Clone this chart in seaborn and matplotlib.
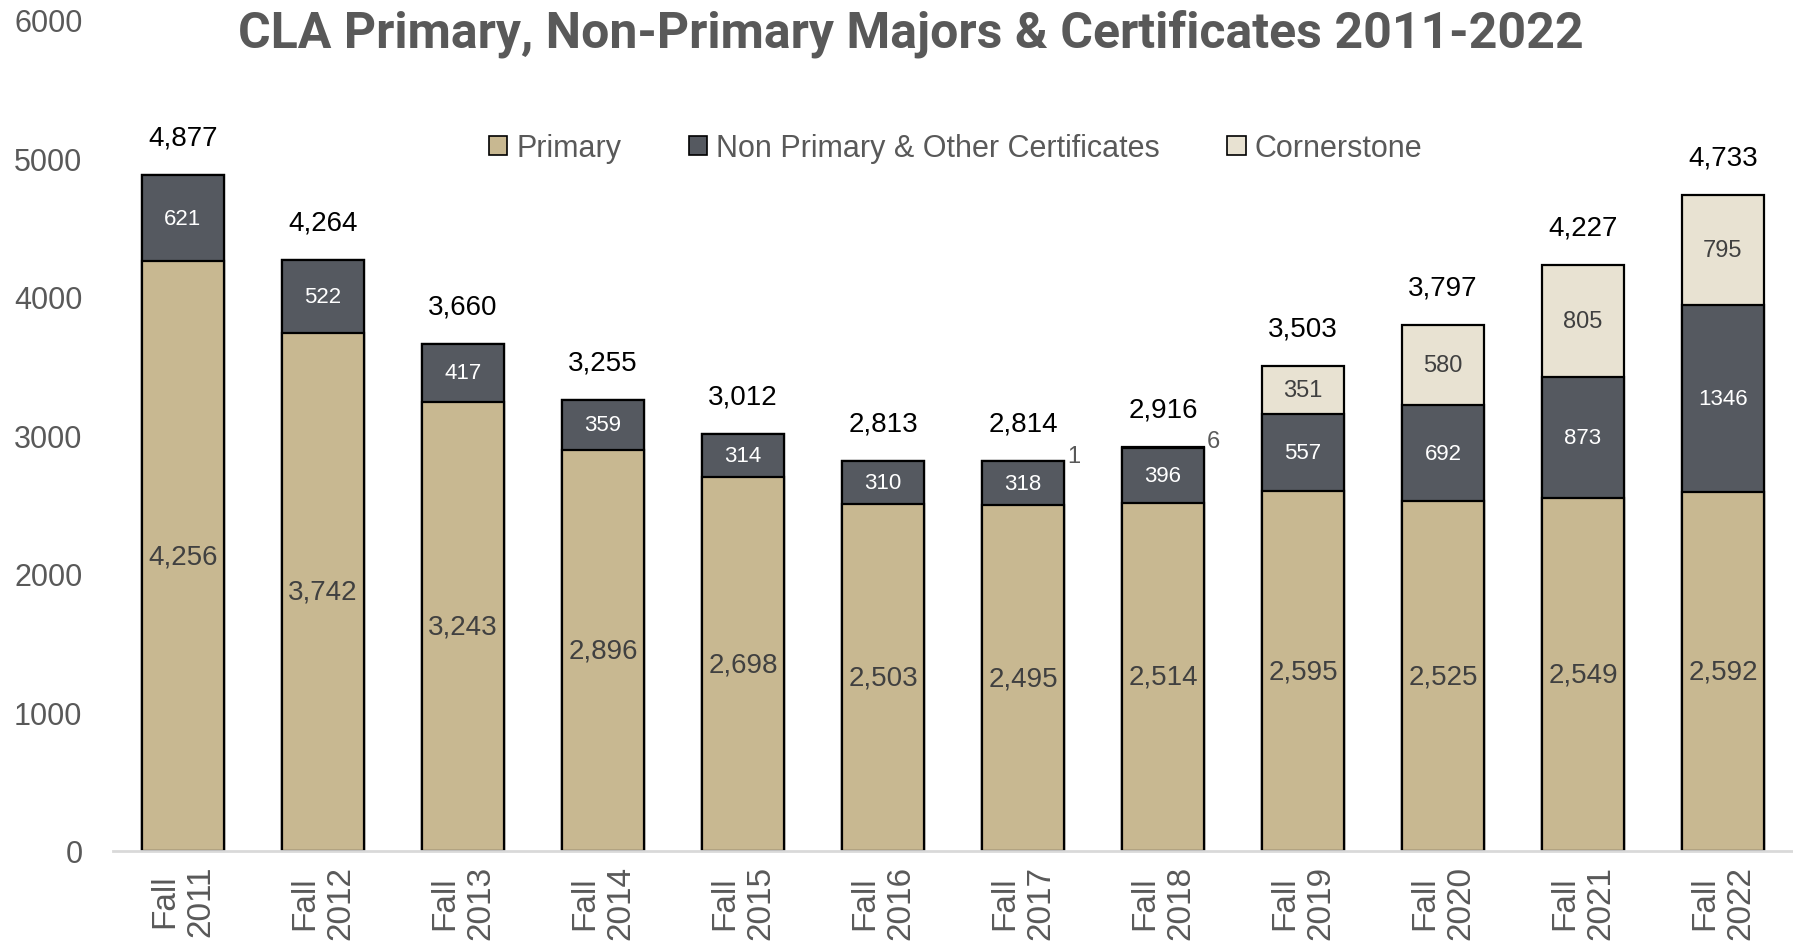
import numpy as np
import pandas as pd
import matplotlib
matplotlib.use("Agg")
import matplotlib.pyplot as plt
import seaborn as sns
from matplotlib.patches import Patch

years = ["2011", "2012", "2013", "2014", "2015", "2016", "2017", "2018", "2019", "2020", "2021", "2022"]
primary = [4256, 3742, 3243, 2896, 2698, 2503, 2495, 2514, 2595, 2525, 2549, 2592]
non_primary = [621, 522, 417, 359, 314, 310, 318, 396, 557, 692, 873, 1346]
cornerstone = [0, 0, 0, 0, 0, 0, 1, 6, 351, 580, 805, 795]
series_names = ["Primary", "Non Primary & Other Certificates", "Cornerstone"]
title = "CLA Primary, Non-Primary Majors & Certificates 2011-2022"

c_primary = "#C8B891"
c_non = "#555960"
c_corner = "#E8E2D2"
gray = "#595959"

sns.set_theme(style="white")
plt.rcParams["font.family"] = ["Liberation Sans", "DejaVu Sans"]

labels = [f"Fall\n{y}" for y in years]
df = pd.DataFrame({
    "label": labels,
    "primary": primary,
    "non": non_primary,
    "corner": cornerstone,
})
df["pn"] = df["primary"] + df["non"]
df["total"] = df["pn"] + df["corner"]

fig = plt.figure(figsize=(17.93, 9.45), dpi=100)
ax = fig.add_axes([0.063, 0.0985, 0.937, 0.8795])

bw = 0.59
kw = dict(edgecolor="black", linewidth=1.6, width=bw, ax=ax, order=labels)
sns.barplot(data=df, x="label", y="total", color=c_corner, **kw)
sns.barplot(data=df, x="label", y="pn", color=c_non, **kw)
sns.barplot(data=df, x="label", y="primary", color=c_primary, **kw)
n = len(labels)
for i, p in enumerate(ax.patches):
    col = [c_corner, c_non, c_primary][i // n]
    p.set_facecolor(col)

ax.set_ylim(0, 6000)
ax.set_xlim(-0.5, n - 0.5)
ax.set_yticks(range(0, 6001, 1000))
ax.set_yticklabels([str(v) for v in range(0, 6001, 1000)], fontsize=22, color=gray)
ax.set_xticks(range(n))
ax.set_xticklabels(labels, rotation=90, fontsize=24, color=gray, ha="center", va="top",
                   multialignment="center")
ax.set_xlabel("")
ax.set_ylabel("")
ax.tick_params(axis="both", length=0)
ax.tick_params(axis="y", pad=22)
ax.tick_params(axis="x", pad=10)
for s in ["top", "right", "left"]:
    ax.spines[s].set_visible(False)
ax.spines["bottom"].set_color("#D9D9D9")
ax.spines["bottom"].set_linewidth(2)

for i in range(n):
    pr, nn, co, tot = primary[i], non_primary[i], cornerstone[i], df["total"][i]
    ax.text(i, pr / 2, f"{pr:,}", ha="center", va="center", fontsize=20, color="#404040")
    ax.text(i, pr + nn / 2, f"{nn}", ha="center", va="center", fontsize=16, color="white")
    if co >= 100:
        ax.text(i, pr + nn + co / 2, f"{co}", ha="center", va="center", fontsize=17, color="#404040")
    elif co > 0:
        ax.annotate(f"{co}", xy=(i + bw / 2, tot), xytext=(2, 4), textcoords="offset points",
                    ha="left", va="center", fontsize=17, color=gray)
    ax.annotate(f"{tot:,}", xy=(i, tot), xytext=(0, 27), textcoords="offset points",
                ha="center", va="center", fontsize=20, color="black")

handles = [Patch(facecolor=c, edgecolor="black", linewidth=1.2) for c in [c_primary, c_non, c_corner]]
fig.legend(handles, series_names, loc="center", bbox_to_anchor=(0.533, 0.842), ncol=3,
           frameon=False, fontsize=22, labelcolor=gray, handlelength=0.6, handleheight=0.6,
           handletextpad=0.3, columnspacing=2.2)

fig.text(0.508, 0.964, title, ha="center", va="center", fontsize=36, fontweight="bold",
         color=gray, family=["Roboto", "DejaVu Sans"])

fig.savefig("out.png", dpi=100)
